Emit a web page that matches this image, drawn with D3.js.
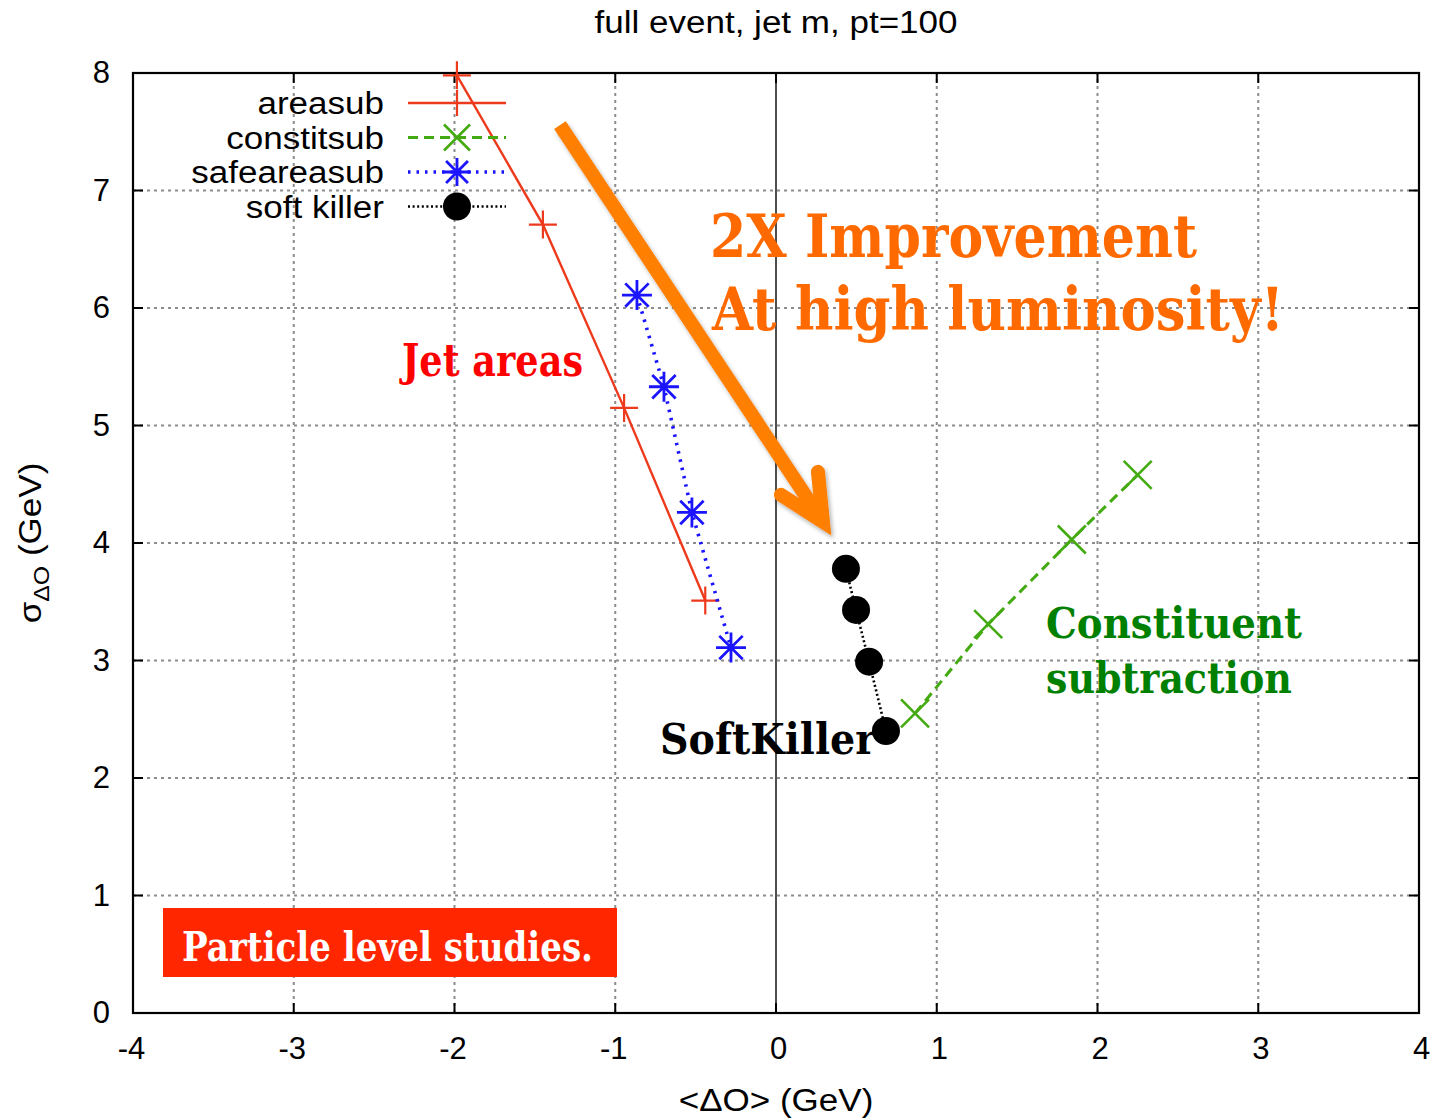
<!DOCTYPE html>
<html>
<head>
<meta charset="utf-8">
<script src="https://cdn.jsdelivr.net/npm/d3@7"></script>
<style>
  html, body { margin: 0; padding: 0; background: #fff; }
  svg { display: block; }
</style>
</head>
<body>
<svg id="chart" width="1437" height="1119"></svg>
<script>
// Mean shift <ΔO> vs. dispersion σ_ΔO for the jet mass, one series per method
const areasubX = [-1.985, -1.45, -0.945, -0.44];
const areasubY = [7.98, 6.71, 5.15, 3.51];

const constitsubX = [0.865, 1.32, 1.84, 2.25];
const constitsubY = [2.55, 3.31, 4.03, 4.58];

const safeareasubX = [-0.865, -0.697, -0.523, -0.28];
const safeareasubY = [6.11, 5.33, 4.26, 3.11];

const softkillerX = [0.435, 0.498, 0.579, 0.684];
const softkillerY = [3.78, 3.43, 2.99, 2.40];

const seriesNames = ["areasub", "constitsub", "safeareasub", "soft killer"];
const xTicks = [-4, -3, -2, -1, 0, 1, 2, 3, 4];
const yTicks = [0, 1, 2, 3, 4, 5, 6, 7, 8];

const titleText = "full event, jet m, pt=100";

// Annotation arrow: shaft start and tip, in data units
const arrowStart = [-1.344, 7.557];
const arrowTip = [0.292, 4.18];

const svg = d3.select("#chart");
const W = 1437, H = 1119;
const margin = { left: 133, right: 18, top: 73, bottom: 106 };

const x = d3.scaleLinear().domain([-4, 4]).range([margin.left, W - margin.right]);
const y = d3.scaleLinear().domain([0, 8]).range([H - margin.bottom, margin.top]);

const sans = "'Liberation Sans', Arial, Helvetica, sans-serif";
const serif = "'DejaVu Serif', 'Liberation Serif', serif";
const wide = 1.13; // horizontal stretch for the sans labels
const fmt = d => String(d); // plain hyphen-minus, as gnuplot prints it

svg.append("rect").attr("width", W).attr("height", H).attr("fill", "#fff");

// Dotted grid
const grid = svg.append("g");
grid.selectAll("line.gx").data(xTicks.filter(d => d > -4 && d < 4 && d !== 0)).join("line")
  .attr("x1", d => x(d)).attr("x2", d => x(d))
  .attr("y1", y(0)).attr("y2", y(8))
  .attr("stroke", "#8c8c8c").attr("stroke-width", 2).attr("stroke-dasharray", "3,4");
grid.selectAll("line.gy").data(yTicks.filter(d => d > 0 && d < 8)).join("line")
  .attr("y1", d => y(d)).attr("y2", d => y(d))
  .attr("x1", x(-4)).attr("x2", x(4))
  .attr("stroke", "#8c8c8c").attr("stroke-width", 2).attr("stroke-dasharray", "3,4");

// Zero line
svg.append("line")
  .attr("x1", x(0)).attr("x2", x(0)).attr("y1", y(0)).attr("y2", y(8))
  .attr("stroke", "#222").attr("stroke-width", 1.6);

// Axes (labels) with inward ticks on all four sides
const tickLen = 10;
const xAxis = svg.append("g").attr("transform", `translate(0,${y(0)})`)
  .call(d3.axisBottom(x).tickValues(xTicks).tickSize(0).tickPadding(24).tickFormat(fmt));
const yAxis = svg.append("g").attr("transform", `translate(${x(-4)},0)`)
  .call(d3.axisLeft(y).tickValues(yTicks).tickSize(0).tickPadding(23).tickFormat(fmt));
[xAxis, yAxis].forEach(a => {
  a.select(".domain").remove();
  a.selectAll("text").attr("font-family", sans).attr("font-size", 31).attr("fill", "#000");
});
xAxis.selectAll("text").attr("dy", "0.71em");
xAxis.selectAll(".tick text").attr("dx", d => d < 0 ? -2 : 2);

const ticks = svg.append("g").attr("stroke", "#000").attr("stroke-width", 2);
xTicks.filter(d => d > -4 && d < 4).forEach(d => {
  ticks.append("line").attr("x1", x(d)).attr("x2", x(d)).attr("y1", y(0)).attr("y2", y(0) - tickLen);
  ticks.append("line").attr("x1", x(d)).attr("x2", x(d)).attr("y1", y(8)).attr("y2", y(8) + tickLen);
});
yTicks.filter(d => d > 0 && d < 8).forEach(d => {
  ticks.append("line").attr("y1", y(d)).attr("y2", y(d)).attr("x1", x(-4)).attr("x2", x(-4) + tickLen);
  ticks.append("line").attr("y1", y(d)).attr("y2", y(d)).attr("x1", x(4)).attr("x2", x(4) - tickLen);
});

// Frame
svg.append("rect")
  .attr("x", x(-4)).attr("y", y(8))
  .attr("width", x(4) - x(-4)).attr("height", y(0) - y(8))
  .attr("fill", "none").attr("stroke", "#000").attr("stroke-width", 2.2);

// Title and axis titles
svg.append("text").attr("transform", `translate(${x(0)},33) scale(${wide},1)`)
  .attr("text-anchor", "middle").attr("font-family", sans).attr("font-size", 31)
  .text(titleText);

svg.append("text").attr("transform", `translate(${x(0)},1111) scale(${wide},1)`)
  .attr("text-anchor", "middle").attr("font-family", sans).attr("font-size", 31)
  .text("<ΔO> (GeV)");

const yl = svg.append("text")
  .attr("transform", `translate(41,${y(4)}) rotate(-90) scale(${wide},1)`)
  .attr("text-anchor", "middle").attr("font-family", sans).attr("font-size", 31);
yl.append("tspan").text("σ");
yl.append("tspan").attr("font-size", 22).attr("dy", 8).text("ΔO");
yl.append("tspan").attr("dy", -8).text(" (GeV)");

// Marker shapes
function plusMarker(g, cx, cy, s, color) {
  g.append("path").attr("d", `M${cx - s},${cy}H${cx + s}M${cx},${cy - s}V${cy + s}`)
    .attr("stroke", color).attr("stroke-width", 2.2).attr("fill", "none");
}
function crossMarker(g, cx, cy, s, color) {
  g.append("path").attr("d", `M${cx - s},${cy - s}L${cx + s},${cy + s}M${cx - s},${cy + s}L${cx + s},${cy - s}`)
    .attr("stroke", color).attr("stroke-width", 2.6).attr("fill", "none");
}
function starMarker(g, cx, cy, s, color) {
  const d = s * 0.78;
  g.append("path").attr("d",
    `M${cx - s},${cy}H${cx + s}M${cx},${cy - s}V${cy + s}` +
    `M${cx - d},${cy - d}L${cx + d},${cy + d}M${cx - d},${cy + d}L${cx + d},${cy - d}`)
    .attr("stroke", color).attr("stroke-width", 2.8).attr("fill", "none");
}
function dotMarker(g, cx, cy, s, color) {
  g.append("circle").attr("cx", cx).attr("cy", cy).attr("r", s).attr("fill", color);
}

const series = [
  { name: seriesNames[0], xs: areasubX, ys: areasubY, color: "#ee3a1c", width: 2.4, dash: null, marker: plusMarker, size: 14 },
  { name: seriesNames[1], xs: constitsubX, ys: constitsubY, color: "#44aa11", width: 3, dash: "10,6", marker: crossMarker, size: 14 },
  { name: seriesNames[2], xs: safeareasubX, ys: safeareasubY, color: "#1a14ff", width: 3.6, dash: "2.5,6", marker: starMarker, size: 15 },
  { name: seriesNames[3], xs: softkillerX, ys: softkillerY, color: "#000", width: 2.6, dash: "2,2.6", marker: dotMarker, size: 14 }
];

const line = d3.line().x(d => x(d[0])).y(d => y(d[1]));
const plot = svg.append("g");
series.forEach(s => {
  const pts = s.xs.map((v, i) => [v, s.ys[i]]);
  plot.append("path").attr("d", line(pts))
    .attr("fill", "none").attr("stroke", s.color).attr("stroke-width", s.width)
    .attr("stroke-dasharray", s.dash);
  pts.forEach(p => s.marker(plot, x(p[0]), y(p[1]), s.size, s.color));
});

// Legend
const legend = svg.append("g");
series.forEach((s, i) => {
  const cy = 103 + i * 34.5;
  legend.append("text").attr("transform", `translate(384,${cy + 11}) scale(${wide},1)`)
    .attr("text-anchor", "end").attr("font-family", sans).attr("font-size", 31)
    .text(s.name);
  legend.append("line").attr("x1", 408).attr("x2", 506).attr("y1", cy).attr("y2", cy)
    .attr("stroke", s.color).attr("stroke-width", s.width).attr("stroke-dasharray", s.dash);
  s.marker(legend, 457, cy, i === 0 ? 13 : (i === 3 ? 14 : s.size - 1), s.color);
});

// Orange arrow
const ax0 = x(arrowStart[0]), ay0 = y(arrowStart[1]);
const ax1 = x(arrowTip[0]), ay1 = y(arrowTip[1]);
const defs = svg.append("defs");
const f = defs.append("filter").attr("id", "shade").attr("x", "-20%").attr("y", "-20%").attr("width", "140%").attr("height", "140%");
f.append("feDropShadow").attr("dx", 2).attr("dy", 3).attr("stdDeviation", 2).attr("flood-color", "#000").attr("flood-opacity", 0.3);
const arrow = svg.append("g").attr("filter", "url(#shade)");
arrow.append("path")
  .attr("d", `M${ax0},${ay0}L${ax1 - 4},${ay1 - 6}`)
  .attr("stroke", "#ff7f00").attr("stroke-width", 14).attr("fill", "none");
arrow.append("path")
  .attr("d", `M${ax1 - 42},${ay1 - 27}L${ax1},${ay1}L${ax1 - 5},${ay1 - 50}`)
  .attr("stroke", "#ff7f00").attr("stroke-width", 14).attr("fill", "none")
  .attr("stroke-linejoin", "miter").attr("stroke-linecap", "round");

// Text annotations
function note(tx, ty, str, size, color, len) {
  return svg.append("text").attr("x", tx).attr("y", ty)
    .attr("font-family", serif).attr("font-weight", "bold").attr("font-size", size)
    .attr("fill", color).attr("textLength", len).attr("lengthAdjust", "spacingAndGlyphs")
    .text(str);
}
note(710, 257, "2X Improvement", 60, "#ff6a00", 487);
note(712, 330, "At high luminosity!", 60, "#ff6a00", 572);
note(402, 376, "Jet areas", 44, "#ff0000", 181);
note(1046, 638, "Constituent", 43, "#008000", 256);
note(1046, 693, "subtraction", 43, "#008000", 246);
note(660, 754, "SoftKiller", 43, "#000", 216);

svg.append("rect").attr("x", 163).attr("y", 908).attr("width", 454).attr("height", 69)
  .attr("fill", "#ff2600");
note(182, 961, "Particle level studies.", 41, "#fff", 411);
</script>
</body>
</html>
